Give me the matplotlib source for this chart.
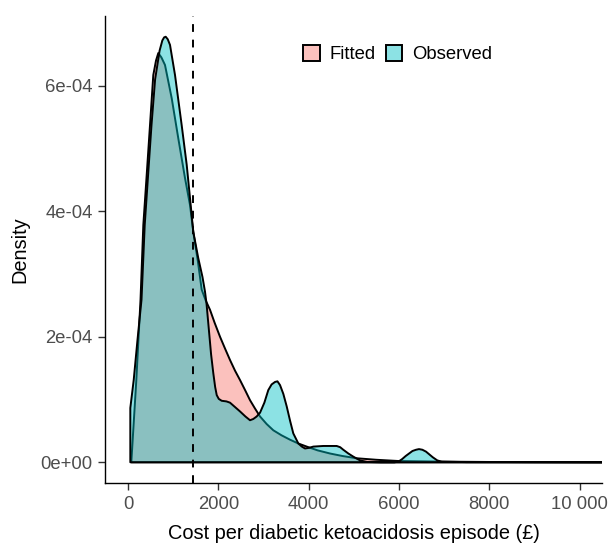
import matplotlib
matplotlib.use("Agg")
import matplotlib.pyplot as plt
from matplotlib.colors import to_rgba
from matplotlib.patches import Patch

plt.rcParams["font.family"] = ["Liberation Sans", "DejaVu Sans"]

# densities (x in GBP, y in units of 1e-4)
fit_x = [73, 184, 277, 339, 414, 487, 560, 620, 671, 740, 819, 968, 1114, 1262, 1373, 1446,
         1550, 1632, 1720, 1816, 1920, 2038, 2150, 2259, 2370, 2481, 2600, 2702, 2810, 2924,
         3070, 3218, 3400, 3588, 3770, 3958, 4200, 4474, 4750, 5065, 5500, 6000, 7000, 8000,
         9000, 10600]
fit_y = [0.0, 1.31, 2.59, 3.78, 4.58, 5.37, 6.17, 6.40, 6.52, 6.45, 6.33, 5.80, 5.16, 4.53, 4.10, 3.67,
         3.19, 2.75, 2.58, 2.43, 2.22, 2.00, 1.81, 1.63, 1.46, 1.31, 1.14, 0.99, 0.86, 0.73,
         0.61, 0.51, 0.43, 0.36, 0.30, 0.25, 0.19, 0.14, 0.10, 0.064, 0.04, 0.02, 0.01, 0.005,
         0.003, 0.001]

obs_x = [51, 51, 126, 210, 299, 370, 445, 520, 600, 700, 760, 800, 835, 880, 930, 1041, 1189,
         1300, 1373, 1446, 1557, 1650, 1705, 1740, 1790, 1840, 1889, 1930, 1965, 2010, 2075,
         2180, 2259, 2370, 2481, 2600, 2702, 2775, 2850, 2924, 3020, 3107, 3180, 3256, 3310,
         3367, 3440, 3515, 3590, 3661, 3772, 3850, 3920, 4010, 4104, 4326, 4622, 4700, 4768,
         4880, 4990, 5138, 5300, 5600, 5900, 5987, 6070, 6150, 6300, 6380, 6445, 6520, 6600,
         6750, 6850, 6948, 7500, 10600]
obs_y = [0.0, 0.865, 1.31, 1.95, 2.59, 3.78, 4.58, 5.37, 6.10, 6.56, 6.72, 6.77, 6.78, 6.74, 6.65,
         6.17, 5.37, 4.74, 4.21, 3.67, 3.25, 2.95, 2.72, 2.52, 2.12, 1.72, 1.42, 1.20, 1.07,
         1.01, 0.98, 0.97, 0.95, 0.88, 0.81, 0.73, 0.67, 0.69, 0.73, 0.79, 0.95, 1.15, 1.24,
         1.28, 1.29, 1.23, 1.09, 0.89, 0.66, 0.46, 0.30, 0.25, 0.22, 0.23, 0.25, 0.26, 0.26,
         0.24, 0.20, 0.14, 0.09, 0.03, 0.005, 0.0, 0.0, 0.01, 0.05, 0.10, 0.18, 0.20, 0.21,
         0.20, 0.17, 0.08, 0.03, 0.01, 0.003, 0.0]

mean_cost = 1433

x_ticks = [0, 2000, 4000, 6000, 8000, 10000]
x_labels = ["0", "2000", "4000", "6000", "8000", "10 000"]
y_ticks = [0, 2, 4, 6]
y_labels = ["0e+00", "2e-04", "4e-04", "6e-04"]

fig = plt.figure(figsize=(6.14, 5.47), dpi=100)
ax = fig.add_axes([0.1715, 0.117, 0.8085, 0.8537])

pink = to_rgba("#F8766D", 0.45)
cyan = to_rgba("#00BFC4", 0.45)

# fitted first, observed drawn on top (as in the original)
for xs, ys, col in [(fit_x, fit_y, pink), (obs_x, obs_y, cyan)]:
    px = list(xs) + [xs[-1], xs[0]]
    py = [v * 1e-4 for v in ys] + [0, 0]
    ax.fill(px, py, facecolor=col, edgecolor="black", linewidth=1.4, joinstyle="round")

ax.axvline(mean_cost, color="black", linestyle=(0, (4, 4)), linewidth=1.4)

ax.set_xlim(-503, 10492)
ax.set_ylim(-0.33e-4, 7.11e-4)
ax.set_xticks(x_ticks)
ax.set_xticklabels(x_labels)
ax.set_yticks([v * 1e-4 for v in y_ticks])
ax.set_yticklabels(y_labels)

for s in ["top", "right"]:
    ax.spines[s].set_visible(False)
for s in ["left", "bottom"]:
    ax.spines[s].set_color("black")
    ax.spines[s].set_linewidth(1.0)
ax.tick_params(length=5, width=1.0, color="#333333", labelcolor="#4D4D4D",
               labelsize=13.3, pad=4)

ax.set_xlabel("Cost per diabetic ketoacidosis episode (£)", fontsize=14.4, labelpad=8)
ax.set_ylabel("Density", fontsize=14.4, labelpad=8)

handles = [Patch(facecolor=pink, edgecolor="black", linewidth=1.4, label="Fitted"),
           Patch(facecolor=cyan, edgecolor="black", linewidth=1.4, label="Observed")]
ax.legend(handles=handles, loc="center", bbox_to_anchor=(0.589, 0.918), ncol=2,
          frameon=False, fontsize=13.3, handlelength=0.9, handleheight=0.9,
          handletextpad=0.54, columnspacing=0.54)

fig.savefig("out.png", dpi=100)
